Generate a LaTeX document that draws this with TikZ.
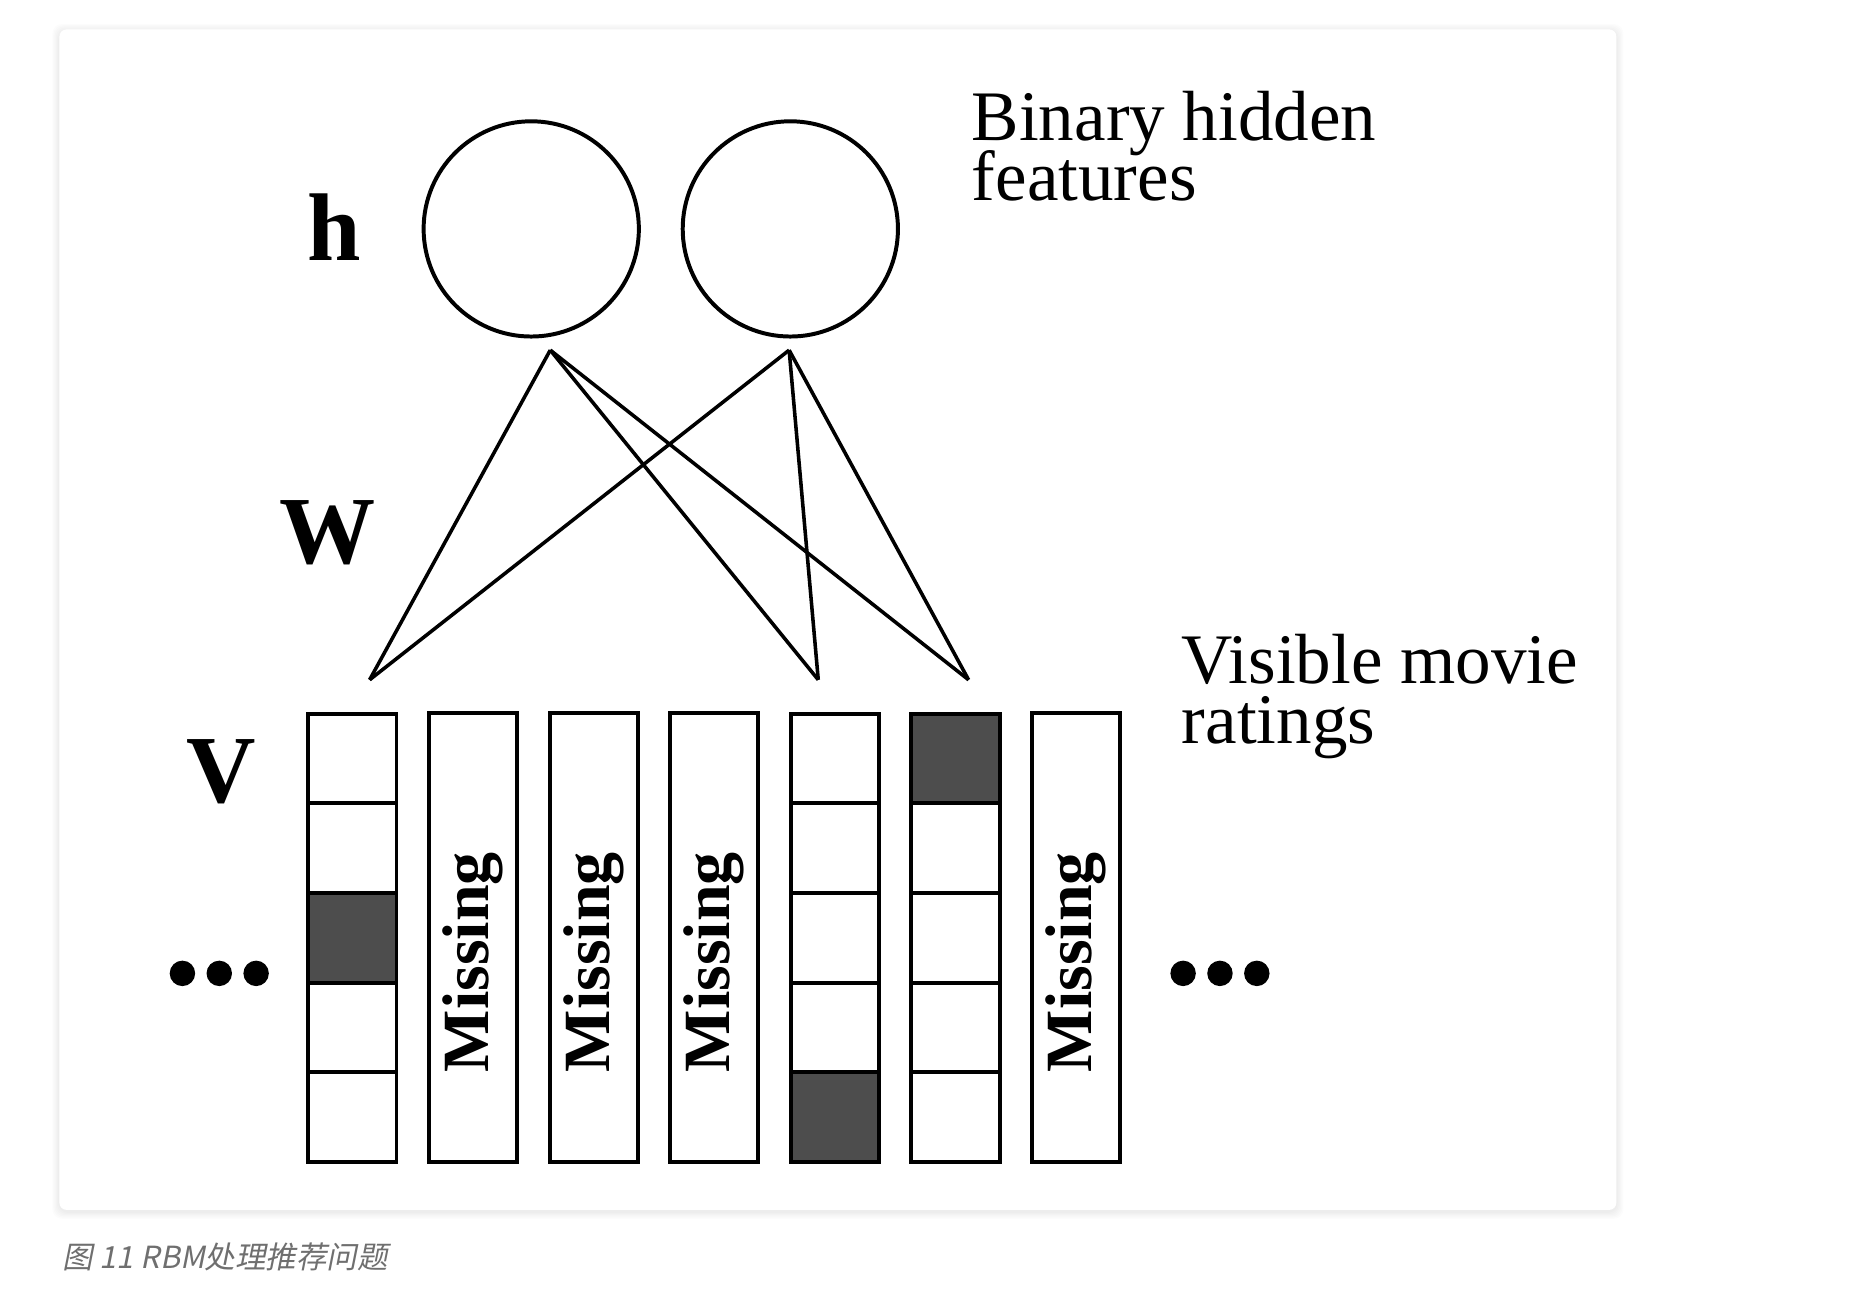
\documentclass[tikz,border=0pt]{standalone}
\usepackage{fontspec}
\setmainfont{Liberation Serif}
\newfontfamily\capfont[FakeSlant=0.2]{Noto Sans CJK SC}
\definecolor{ratefill}{HTML}{4D4D4D}
\definecolor{capgray}{HTML}{6F6F6F}

\begin{document}
\begin{tikzpicture}[x=0.01cm,y=-0.01cm,
    unit/.style={circle,draw,line width=0.95pt,minimum size=1.81cm,inner sep=0pt},
    cell/.style={rectangle,draw,fill=white,line width=0.95pt,minimum width=0.742cm,minimum height=0.7544cm,inner sep=0pt},
    gap/.style={cell,minimum height=3.772cm},
    link/.style={line width=0.85pt},
    letter/.style={font=\bfseries\fontsize{23}{27}\selectfont,anchor=base,inner sep=0pt},
    missing/.style={font=\bfseries\fontsize{15.8}{19}\selectfont,rotate=90,inner sep=0pt},
    note/.style={font={\fontsize{17}{14.4}\selectfont\lineskiplimit=-100pt},align=left,anchor=north west,inner sep=0pt}]
    \useasboundingbox (0,0) rectangle (1560,1095.5);

    % Card
    \foreach \s in {1,...,6}
        \fill[black,opacity=0.012,rounded corners=0.08cm] (50-\s,24.7-\s+1.5) rectangle (1360+\s,1018+\s+1.5);
    \fill[white,rounded corners=0.06cm] (50,24.7) rectangle (1360,1018);

    % Hidden units
    \node[unit] (h1) at (447,192.6) {};
    \node[unit] (h2) at (665,192.6) {};
    \node[letter] (hl) at (281,218.9) {h};
    \node[letter] (wl) at (276,474) {W};
    \node[letter] (vl) at (186,675) {V};
    \node[note] (bin) at (817,75.6) {Binary hidden\\features};
    \node[note] (vis) at (993.7,533) {Visible movie\\ratings};

    % Visible ratings
    \foreach \c in {1,5,6}
        \foreach \r in {1,...,5}
            \node[cell] (c\c-\r) at ({296.5+(\c-1)*101.5},{600.4+75.44*(\r-0.5)}) {};
    \foreach \c/\r in {1/3,5/5,6/1}
        \node[cell,fill=ratefill] (f\c) at ({296.5+(\c-1)*101.5},{600.4+75.44*(\r-0.5)}) {};
    \foreach \c in {2,3,4,7} {
        \node[gap] (c\c) at ({296.5+(\c-1)*101.5},789) {};
        \node[missing] (m\c) at ({296.5+(\c-1)*101.5},809.5) {Missing};
    }

    \foreach \k in {0,1,2} {
        \fill (153.5+\k*31,819) circle (0.107cm);
        \fill (995.5+\k*31,819) circle (0.107cm);
    }

    % Weights
    \coordinate (t1) at (463,294.6);
    \coordinate (t2) at (664,294.6);
    \coordinate (v1) at (311,572);
    \coordinate (v5) at (688.5,572);
    \coordinate (v6) at (815,572);
    \foreach \a in {t1,t2}
        \foreach \b in {v1,v5,v6}
            \draw[link] (\a) -- (\b);

    \node[anchor=west,inner sep=0pt,text=capgray,font=\capfont\fontsize{7.3}{9}\selectfont] (cap) at (52,1057.5) {图 11 RBM处理推荐问题};
\end{tikzpicture}
\end{document}
